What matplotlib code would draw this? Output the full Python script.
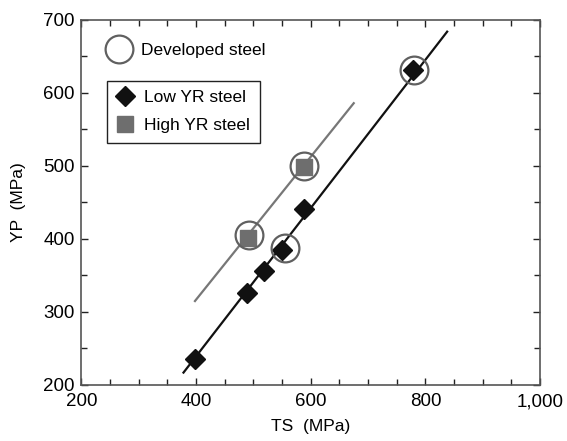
import matplotlib
matplotlib.use("Agg")
import matplotlib.pyplot as plt
from matplotlib.lines import Line2D
from matplotlib.ticker import MultipleLocator, FuncFormatter

plt.rcParams['font.family'] = ['Liberation Sans', 'DejaVu Sans']

# data
low_ts = [398, 488, 519, 550, 589, 778]
low_yp = [236, 326, 356, 385, 441, 632]
high_ts = [490, 588]
high_yp = [401, 498]
dev_ts = [492, 555, 588, 780]
dev_yp = [405, 388, 500, 631]

# fitted lines (end points)
low_fit_ts = [378, 838]
low_fit_yp = [217, 684]
high_fit_ts = [398, 675]
high_fit_yp = [315, 586]

GRAY = "#777777"
CIRC = "#606060"

fig = plt.figure(figsize=(5.67, 4.41), dpi=100)
ax = fig.add_axes([0.1437, 0.127, 0.8087, 0.8277])

ax.plot(low_fit_ts, low_fit_yp, color="#111111", lw=1.6, zorder=2)
ax.plot(high_fit_ts, high_fit_yp, color=GRAY, lw=1.6, zorder=2)

ax.plot(low_ts, low_yp, ls="none", marker="D", ms=10.5, color="#111111", zorder=3)
ax.plot(high_ts, high_yp, ls="none", marker="s", ms=11, color="#6e6e6e", zorder=3)
ax.plot(dev_ts, dev_yp, ls="none", marker="o", ms=20, mfc="none",
        mec=CIRC, mew=1.6, zorder=4)

ax.set_xlim(200, 1000)
ax.set_ylim(200, 700)
ax.xaxis.set_major_locator(MultipleLocator(200))
ax.xaxis.set_minor_locator(MultipleLocator(50))
ax.yaxis.set_major_locator(MultipleLocator(100))
ax.yaxis.set_minor_locator(MultipleLocator(50))
ax.xaxis.set_major_formatter(FuncFormatter(lambda v, p: f"{int(v):,}"))

ax.tick_params(which="both", direction="in", top=True, right=True,
               labelsize=13.5, color="#222222", width=1)
ax.tick_params(which="major", length=5)
ax.tick_params(which="minor", length=4)
ax.tick_params(axis="x", which="major", pad=6)
ax.tick_params(axis="y", which="major", pad=5)
for s in ax.spines.values():
    s.set_color("#555555")
    s.set_linewidth(1.2)

ax.set_xlabel("TS  (MPa)", fontsize=12.5, labelpad=6)
ax.set_ylabel("YP  (MPa)", fontsize=12.5, labelpad=12)

h_dev = Line2D([], [], ls="none", marker="o", ms=20, mfc="none", mec=CIRC, mew=1.6)
leg1 = ax.legend([h_dev], ["Developed steel"], loc="upper left",
                 bbox_to_anchor=(0.013, 0.986), frameon=False, fontsize=12.5,
                 handlelength=1.6, handletextpad=0.5, borderpad=0.5)
ax.add_artist(leg1)

h_low = Line2D([], [], ls="none", marker="D", ms=10.5, color="#111111")
h_high = Line2D([], [], ls="none", marker="s", ms=11, color="#6e6e6e")
leg2 = ax.legend([h_low, h_high], ["Low YR steel", "High YR steel"],
                 loc="upper left", bbox_to_anchor=(0.056, 0.834),
                 fontsize=12.5, fancybox=False, framealpha=1,
                 edgecolor="#222222", handlelength=1.0, handletextpad=0.6,
                 borderpad=0.55, labelspacing=0.75, borderaxespad=0)
leg2.get_frame().set_linewidth(1.0)

fig.savefig("out.png", dpi=100)
